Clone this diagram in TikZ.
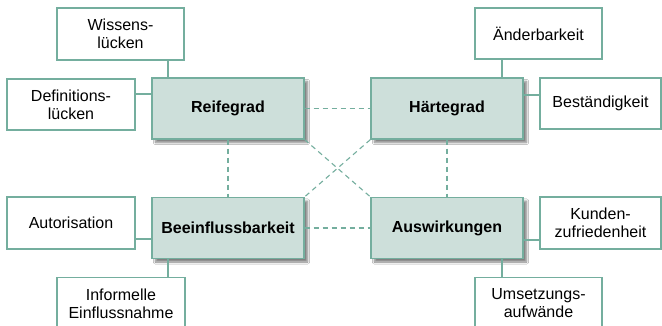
\documentclass[tikz,border=0pt]{standalone}
\usepackage{fontspec}
\setmainfont{Liberation Sans}
\usetikzlibrary{shadows.blur}
\definecolor{boxline}{HTML}{74AE9E}
\definecolor{boxfill}{HTML}{CDDFDA}
\tikzset{
  mainbox/.style={draw=boxline, line width=1.3pt, fill=boxfill, minimum width=152pt,
    minimum height=61pt, inner sep=0pt, font=\fontsize{16}{18}\selectfont\bfseries,
    blur shadow={shadow xshift=3.5pt, shadow yshift=-3.5pt, shadow blur steps=6, shadow opacity=50}},
  subbox/.style={draw=boxline, line width=1.2pt, fill=white, minimum width=127pt,
    minimum height=52pt, inner sep=0pt, align=center, font=\fontsize{16}{18}\selectfont},
  link/.style={draw=boxline, line width=2pt},
  relation/.style={draw=boxline, line width=1.1pt, dash pattern=on 5pt off 4pt}
}
\begin{document}
\begin{tikzpicture}[x=1pt, y=-1pt]
\clip (0,0) rectangle (662,326);
\fill[white] (0,0) rectangle (662,326);

% core dimensions
\node[mainbox] (reif) at (228,108.5) {Reifegrad};
\node[mainbox] (haert) at (447,108.5) {Härtegrad};
\node[mainbox] (beein) at (228,228) {Beeinflussbarkeit};
\node[mainbox] (ausw) at (447,228) {Auswirkungen};

% relations between the core dimensions
\draw[relation] (reif.east) -- (haert.west);
\draw[relation] (beein.east) -- (ausw.west);
\draw[relation] (reif.south) -- (beein.north);
\draw[relation] (haert.south) -- (ausw.north);
\draw[relation] (reif.south east) -- (ausw.north west);
\draw[relation] (haert.south west) -- (beein.north east);

% detail boxes
\node[subbox] (wis) at (120.5,34) {Wissens-\\lücken};
\node[subbox, minimum width=128pt, minimum height=51pt] (def) at (71,104.5) {Definitions-\\lücken};
\node[subbox, minimum height=51pt] (aend) at (538.5,33.5) {Änderbarkeit};
\node[subbox, minimum width=121pt, minimum height=51pt] (best) at (600.5,103.5) {Beständigkeit};
\node[subbox, minimum width=128pt] (auto) at (71,223) {Autorisation};
\node[subbox, minimum width=128pt] (info) at (121,303.5) {Informelle\\Einflussnahme};
\node[subbox, minimum width=121pt] (kund) at (600.5,223) {Kunden-\\zufriedenheit};
\node[subbox] (ums) at (538.5,303.5) {Umsetzungs-\\aufwände};

% attachment points of the detail links
\coordinate (xl) at (168,0);
\coordinate (xr) at (502,0);
\coordinate (yt1) at (0,94);
\coordinate (yt2) at (0,95);
\coordinate (yb1) at (0,239);
\coordinate (yb2) at (0,240);

\draw[link] (wis.south -| xl) -- (reif.north -| xl);
\draw[link] (def.east |- yt1) -- (reif.west |- yt1);
\draw[link] (aend.south -| xr) -- (haert.north -| xr);
\draw[link] (best.west |- yt2) -- (haert.east |- yt2);
\draw[link] (auto.east |- yb1) -- (beein.west |- yb1);
\draw[link] (info.north -| xl) -- (beein.south -| xl);
\draw[link] (kund.west |- yb2) -- (ausw.east |- yb2);
\draw[link] (ums.north -| xr) -- (ausw.south -| xr);
\end{tikzpicture}
\end{document}
